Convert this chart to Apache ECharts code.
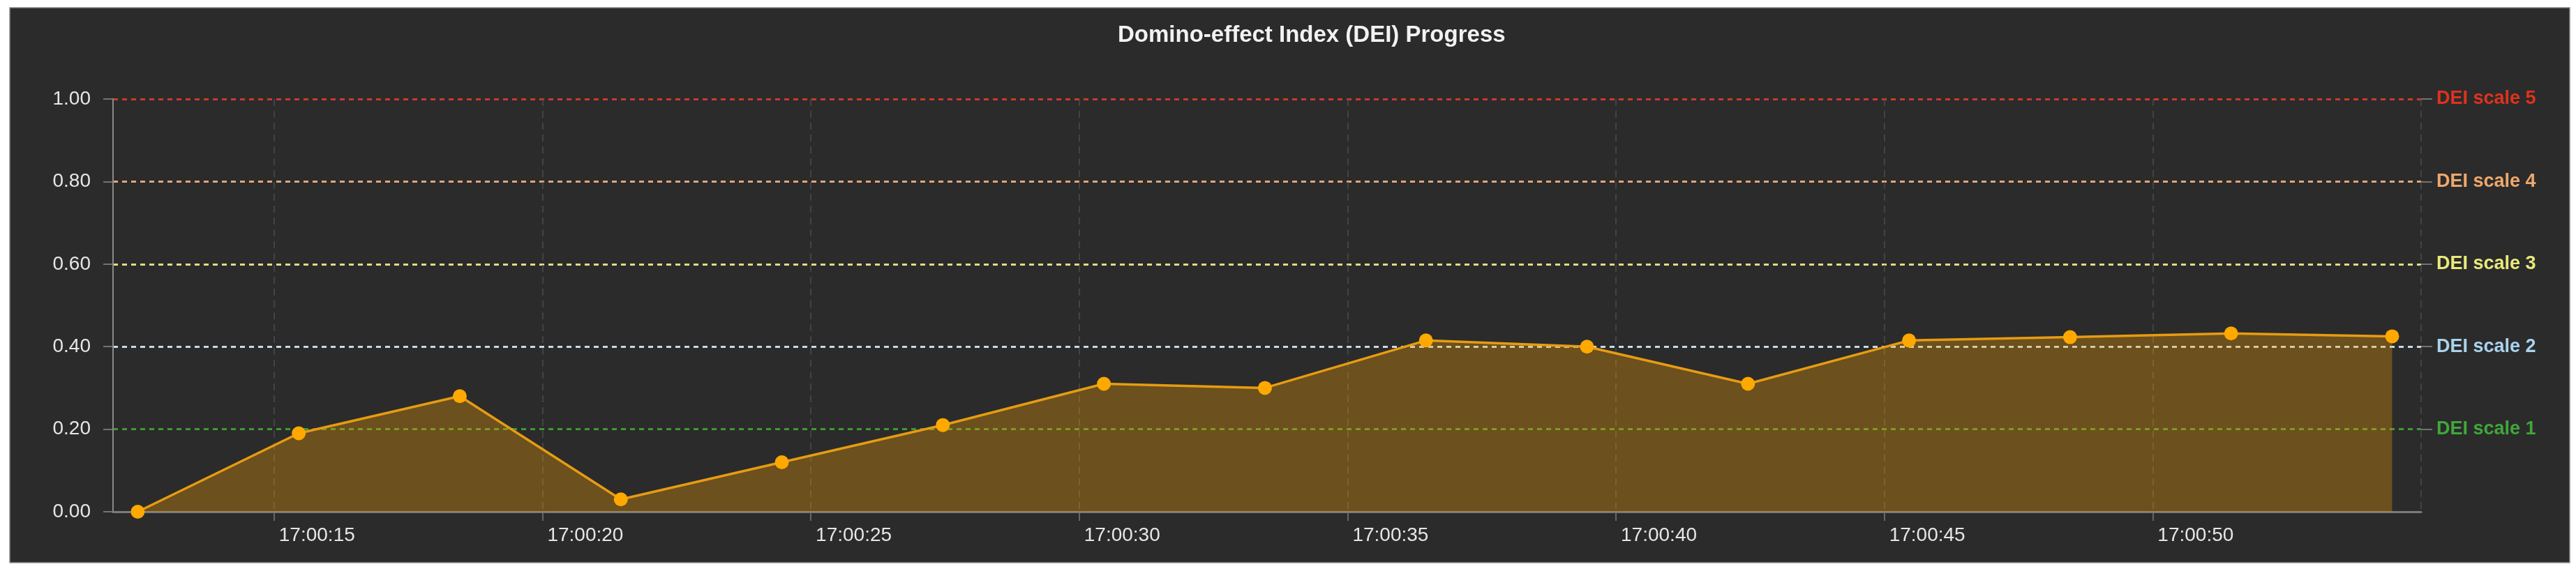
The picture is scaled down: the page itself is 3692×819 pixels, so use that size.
<!DOCTYPE html>
<html>
<head>
<meta charset="utf-8">
<script src="https://cdn.jsdelivr.net/npm/echarts@6/dist/echarts.min.js"></script>
<style>
  html, body { margin: 0; padding: 0; background: #ffffff; }
  #chart { width: 3692px; height: 819px; }
</style>
</head>
<body>
<div id="chart"></div>
<script>
// ---- data ----
const titleText = 'Domino-effect Index (DEI) Progress';
const timeLabels = ['17:00:12.460', '17:00:15.460', '17:00:18.460', '17:00:21.460', '17:00:24.460',
                    '17:00:27.460', '17:00:30.460', '17:00:33.460', '17:00:36.460', '17:00:39.460',
                    '17:00:42.460', '17:00:45.460', '17:00:48.460', '17:00:51.460', '17:00:54.460'];
const deiValues = [0.00, 0.19, 0.28, 0.03, 0.12, 0.21, 0.31, 0.30, 0.415, 0.40, 0.31, 0.415, 0.423, 0.432, 0.425];
const axisStart = '17:00:12';
const axisEnd = '17:00:55';
const yTicks = [0, 0.2, 0.4, 0.6, 0.8, 1.0];
const scaleLevels = [0.2, 0.4, 0.6, 0.8, 1.0];
const scaleNames = ['DEI scale 1', 'DEI scale 2', 'DEI scale 3', 'DEI scale 4', 'DEI scale 5'];
const scaleColors = ['#3fa83a', '#a9d3ee', '#e9e97c', '#eea86c', '#e0321e'];
const scaleLineColors = ['#3f9a32', '#c6dbe8', '#dede86', '#e4a57a', '#cc3a2a'];

function toTime(s) {
  const p = s.split(':');
  const sec = parseFloat(p[2]);
  const whole = Math.floor(sec);
  return new Date(2024, 0, 1, +p[0], +p[1], whole, Math.round((sec - whole) * 1000)).getTime();
}
const seriesData = timeLabels.map((t, i) => [toTime(t), deiValues[i]]);
function pad(n) { return (n < 10 ? '0' : '') + n; }

const chart = echarts.init(document.getElementById('chart'), null, { renderer: 'canvas' });
const font = '"Liberation Sans", Arial, sans-serif';

chart.setOption({
  backgroundColor: '#ffffff',
  animation: false,
  graphic: [{
    type: 'rect',
    z: -10,
    silent: true,
    shape: { x: 14, y: 11, width: 3669, height: 796 },
    style: { fill: '#2b2b2b', stroke: '#8c8c8c', lineWidth: 1.5 }
  }],
  title: {
    text: titleText,
    left: 1597,
    top: 29,
    textStyle: { color: '#f2f2f2', fontSize: 33, fontWeight: 'bold', fontFamily: font }
  },
  grid: { left: 162, right: 222, top: 142, bottom: 85, containLabel: false, outerBoundsMode: 'none' },
  xAxis: {
    type: 'time',
    min: toTime(axisStart),
    max: toTime(axisEnd),
    splitNumber: 5,
    minInterval: 6000,
    maxInterval: 9000,
    axisLine: { show: true, lineStyle: { color: '#7b7b7b', width: 3 } },
    axisTick: { show: true, length: 13, lineStyle: { color: '#7b7b7b', width: 1.5 } },
    splitLine: { show: true, lineStyle: { color: '#4c4c4c', width: 1.5, type: [10, 7] } },
    axisLabel: {
      color: '#e6e6e6', fontSize: 28, fontFamily: font, margin: 20,
      align: 'left', padding: [0, 0, 0, 7],
      showMinLabel: false, showMaxLabel: false,
      formatter: function (v) {
        const d = new Date(v);
        return pad(d.getHours()) + ':' + pad(d.getMinutes()) + ':' + pad(d.getSeconds());
      }
    }
  },
  yAxis: [{
    type: 'value',
    min: yTicks[0],
    max: yTicks[yTicks.length - 1],
    interval: 0.2,
    axisLine: { show: true, lineStyle: { color: '#8a8a8a', width: 2 } },
    axisTick: { show: true, length: 14, lineStyle: { color: '#8a8a8a', width: 1.5 } },
    axisLabel: {
      color: '#e6e6e6', fontSize: 28, fontFamily: font, margin: 32,
      formatter: v => v.toFixed(2)
    },
    splitLine: {
      show: true,
      lineStyle: { color: ['rgba(0,0,0,0)'].concat(scaleLineColors), width: 3, type: [7, 6] }
    }
  }, {
    type: 'value',
    position: 'right',
    min: yTicks[0],
    max: yTicks[yTicks.length - 1],
    interval: 0.2,
    axisLine: { show: false },
    axisTick: { show: true, length: 16, customValues: scaleLevels, lineStyle: { color: '#8a8a8a', width: 1.5 } },
    splitLine: { show: false },
    axisLabel: {
      customValues: scaleLevels,
      fontSize: 27, fontWeight: 'bold', fontFamily: font, margin: 22,
      formatter: function (v) {
        const i = Math.round(v * 5) - 1;
        return scaleNames[i] || '';
      },
      color: function (v) {
        const i = Math.round(Number(v) * 5) - 1;
        return scaleColors[i] || '#ffffff';
      }
    }
  }],
  series: [{
    type: 'line',
    data: seriesData,
    yAxisIndex: 0,
    symbol: 'circle',
    symbolSize: 20,
    showAllSymbol: true,
    itemStyle: { color: '#ffa800' },
    lineStyle: { color: '#e69c12', width: 3.5 },
    areaStyle: { color: '#ffa500', opacity: 0.31 },
    z: 3
  }]
});
</script>
</body>
</html>
